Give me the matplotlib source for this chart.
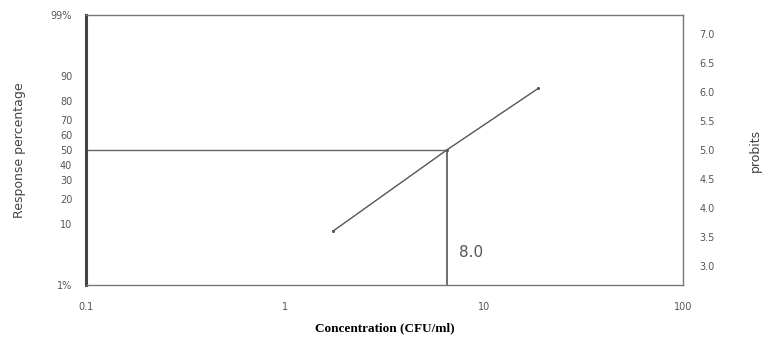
"""Probit plot: response percentage vs concentration (log scale)."""
from statistics import NormalDist

import matplotlib

matplotlib.use("Agg")
import matplotlib.pyplot as plt

# data
conc = [1.74, 6.5, 18.7]            # CFU/ml
probit = [3.60, 5.0, 6.06]
pct_ticks = [1, 10, 20, 30, 40, 50, 60, 70, 80, 90, 99]
pct_labels = ["1%", "10", "20", "30", "40", "50", "60", "70", "80", "90", "99%"]
probit_ticks = [3.0, 3.5, 4.0, 4.5, 5.0, 5.5, 6.0, 6.5, 7.0]
x_ticks = [0.1, 1, 10, 100]
x_labels = ["0.1", "1", "10", "100"]
lc50 = 6.5
lc50_label = "8.0"


def to_probit(p):
    return NormalDist().inv_cdf(p / 100.0) + 5.0


GREY = "#555555"
fig = plt.figure(figsize=(7.62, 3.40), dpi=100)
ax = fig.add_axes([0.1129, 0.1618, 0.7834, 0.7941])
ymin, ymax = to_probit(1), to_probit(99)

ax.plot(conc, probit, "-", color="#555555", lw=1.0, marker="o", ms=1.2)
ax.plot([0.1, lc50], [5.0, 5.0], color="#666666", lw=1.0)
ax.plot([lc50, lc50], [ymin, 5.0], color="#555555", lw=1.2)
ax.text(lc50 * 1.15, 3.1, lc50_label, fontsize=11, color="#555555",
        va="bottom", ha="left")

ax.set_xscale("log")
ax.set_xlim(0.1, 100)
ax.set_ylim(ymin, ymax)
ax.set_xticks(x_ticks)
ax.set_xticklabels(x_labels)
ax.minorticks_off()
ax.set_yticks([to_probit(p) for p in pct_ticks])
ax.set_yticklabels(pct_labels)
ax.tick_params(length=0, labelsize=7, labelcolor=GREY)
ax.tick_params(axis="x", pad=12)
ax.tick_params(axis="y", pad=10)
for side in ["top", "right", "bottom"]:
    ax.spines[side].set_color("#777777")
    ax.spines[side].set_linewidth(1.0)
ax.spines["left"].set_linewidth(2.2)
ax.spines["left"].set_color("#444444")
ax.set_ylabel("Response percentage", fontsize=9, color="#444444", labelpad=18)
ax.set_xlabel("Concentration (CFU/ml)", family="Liberation Serif",
              fontweight="bold", fontsize=9.5, labelpad=8)

ax2 = ax.twinx()
ax2.set_ylim(ymin, ymax)
ax2.set_yticks(probit_ticks)
ax2.set_yticklabels([f"{v:.1f}" for v in probit_ticks])
ax2.tick_params(length=0, labelsize=7, labelcolor=GREY, pad=12)
for s in ax2.spines.values():
    s.set_visible(False)
ax2.set_ylabel("probits", fontsize=9, color="#444444", labelpad=24)

fig.savefig("out.png", dpi=100)
